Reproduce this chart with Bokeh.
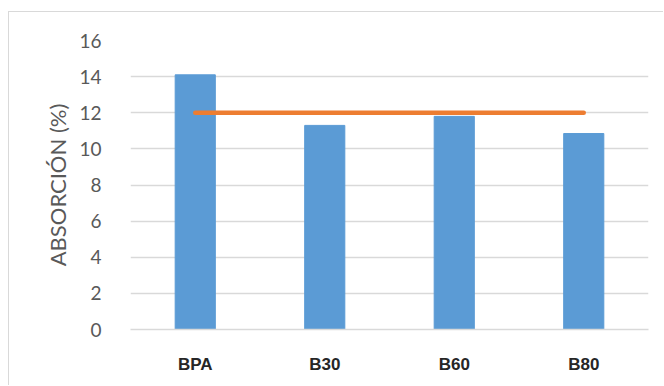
from bokeh.plotting import figure
from bokeh.models import ColumnDataSource, Range1d, FixedTicker
from bokeh.embed import file_html
from bokeh.resources import INLINE

categories = ["BPA", "B30", "B60", "B80"]
absorcion = [14.1, 11.3, 11.8, 10.85]
limite = [12, 12, 12, 12]
y_ticks = [0, 2, 4, 6, 8, 10, 12, 14, 16]

src = ColumnDataSource(dict(cat=categories, val=absorcion, lim=limite))

p = figure(x_range=categories, y_range=Range1d(0, 16), width=655, height=374,
           output_backend="svg", toolbar_location=None,
           min_border_left=121, min_border_right=16, min_border_top=28, min_border_bottom=57,
           margin=(11, 0, 0, 8),
           styles={"border-left": "1px solid #d9d9d9", "border-top": "1px solid #d9d9d9"})
p.x_range.range_padding = 0
p.vbar(x="cat", top="val", width=0.31, source=src, color="#5B9BD5", line_color="#5B9BD5")
p.line(x="cat", y="lim", source=src, line_color="#ED7D31", line_width=4.5, line_cap="round")

p.outline_line_color = None
p.xgrid.grid_line_color = None
p.ygrid.grid_line_color = "#d9d9d9"
p.ygrid.grid_line_width = 1.3
p.yaxis.ticker = FixedTicker(ticks=y_ticks)
p.yaxis.axis_line_color = None
p.yaxis.major_tick_line_color = None
p.yaxis.minor_tick_line_color = None
p.yaxis.major_label_text_font = "Lato"
p.yaxis.major_label_text_font_size = "19px"
p.yaxis.major_label_text_color = "#595959"
p.yaxis.major_label_standoff = 23
p.yaxis.axis_label = "ABSORCIÓN (%)"
p.yaxis.axis_label_text_font = "Lato"
p.yaxis.axis_label_text_font_style = "normal"
p.yaxis.axis_label_text_font_size = "22px"
p.yaxis.axis_label_text_color = "#595959"
p.yaxis.axis_label_standoff = 5

p.xaxis.axis_line_color = "#d9d9d9"
p.xaxis.axis_line_width = 1.3
p.xaxis.major_tick_line_color = None
p.xaxis.major_label_text_font = "Liberation Sans"
p.xaxis.major_label_text_font_style = "bold"
p.xaxis.major_label_text_font_size = "17px"
p.xaxis.major_label_text_color = "#262626"
p.xaxis.major_label_standoff = 19

open("out.html", "w").write(file_html(p, INLINE))
